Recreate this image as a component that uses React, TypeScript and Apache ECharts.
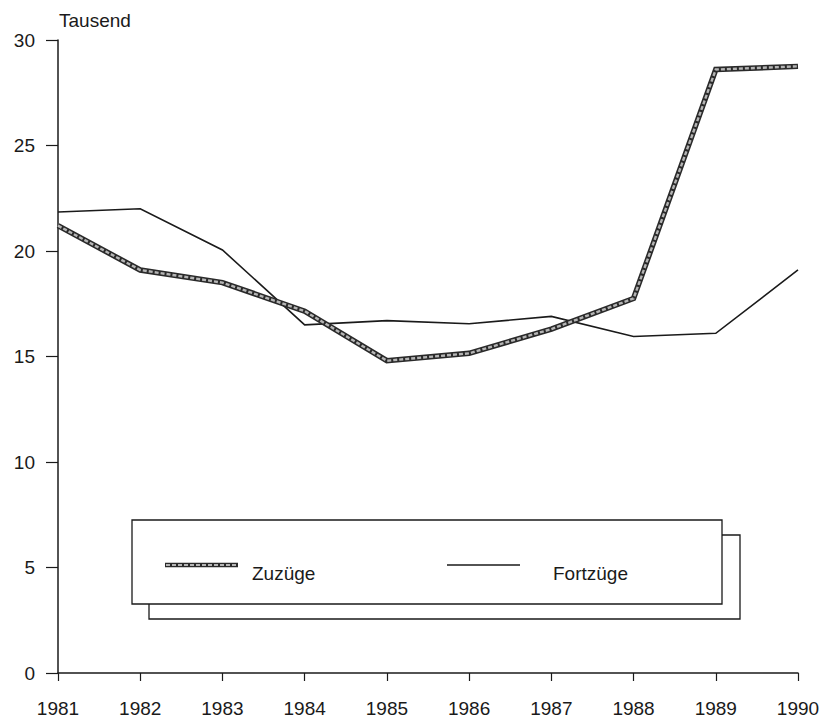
import React, { useEffect, useRef } from "react";
import * as echarts from "echarts";

const years = ["1981", "1982", "1983", "1984", "1985", "1986", "1987", "1988", "1989", "1990"];
const zuzuege = [21.2, 19.1, 18.5, 17.15, 14.8, 15.15, 16.3, 17.75, 28.6, 28.75];
const fortzuege = [21.85, 22.0, 20.05, 16.5, 16.7, 16.55, 16.9, 15.95, 16.1, 19.1];
const yTicks = { min: 0, max: 30, interval: 5 };
const legendNames = ["Zuzüge", "Fortzüge"];
const unitLabel = "Tausend";

const FONT = '"Liberation Sans", Arial, Helvetica, sans-serif';
const INK = "#1a1a1a";

export default function App() {
  const ref = useRef<HTMLDivElement>(null);
  useEffect(() => {
    if (!ref.current) return;
    const chart = echarts.init(ref.current, null, { renderer: "svg" });
    chart.setOption({
      animation: false,
      backgroundColor: "#ffffff",
      grid: { left: 58, top: 40, right: 37, bottom: 46, containLabel: false },
      xAxis: {
        type: "category",
        data: years,
        boundaryGap: false,
        axisLine: { lineStyle: { color: INK, width: 1.5 } },
        axisTick: { show: true, length: 8, lineStyle: { color: INK, width: 1.2 } },
        axisLabel: { color: INK, fontSize: 19, fontFamily: FONT, margin: 26 },
        splitLine: { show: false },
      },
      yAxis: {
        type: "value",
        min: yTicks.min,
        max: yTicks.max,
        interval: yTicks.interval,
        axisLine: { show: true, lineStyle: { color: INK, width: 1.5 } },
        axisTick: { show: true, length: 12, lineStyle: { color: INK, width: 1.2 } },
        axisLabel: { color: INK, fontSize: 19, fontFamily: FONT, margin: 23 },
        splitLine: { show: false },
      },
      series: [
        {
          name: legendNames[1],
          type: "line",
          data: fortzuege,
          showSymbol: false,
          lineStyle: { color: INK, width: 1.6, join: "miter" },
          z: 2,
        },
        {
          name: legendNames[0],
          type: "line",
          data: zuzuege,
          showSymbol: false,
          lineStyle: { color: "#2a2a2a", width: 5.5, join: "miter" },
          z: 3,
        },
        {
          name: legendNames[0] + " ",
          type: "line",
          data: zuzuege,
          showSymbol: false,
          lineStyle: { color: "#b5b5b5", width: 2.4, join: "miter", type: [4, 2] },
          z: 4,
        },
      ],
      graphic: [
        {
          type: "text",
          left: 59,
          top: 11,
          style: { text: unitLabel, fill: INK, font: `19px ${FONT}` },
        },
        {
          type: "rect",
          shape: { x: 149, y: 535, width: 591, height: 84 },
          style: { fill: "#ffffff", stroke: INK, lineWidth: 1.3 },
          z: 10,
        },
        {
          type: "rect",
          shape: { x: 132, y: 520, width: 590, height: 84 },
          style: { fill: "#ffffff", stroke: INK, lineWidth: 1.3 },
          z: 11,
        },
        {
          type: "line",
          shape: { x1: 165, y1: 565, x2: 238, y2: 565 },
          style: { stroke: "#2a2a2a", lineWidth: 4.5 },
          z: 12,
        },
        {
          type: "line",
          shape: { x1: 166, y1: 565, x2: 237, y2: 565 },
          style: { stroke: "#b5b5b5", lineWidth: 1.8, lineDash: [4, 2] },
          z: 13,
        },
        {
          type: "text",
          x: 252,
          y: 573,
          style: { text: legendNames[0], fill: INK, font: `19px ${FONT}`, textVerticalAlign: "middle" },
          z: 13,
        },
        {
          type: "line",
          shape: { x1: 447, y1: 565, x2: 520, y2: 565 },
          style: { stroke: INK, lineWidth: 1.5 },
          z: 12,
        },
        {
          type: "text",
          x: 553,
          y: 573,
          style: { text: legendNames[1], fill: INK, font: `19px ${FONT}`, textVerticalAlign: "middle" },
          z: 13,
        },
      ],
    });
    return () => chart.dispose();
  }, []);
  return <div ref={ref} style={{ width: 835, height: 719, position: "absolute", left: 0, top: 0 }} />;
}
